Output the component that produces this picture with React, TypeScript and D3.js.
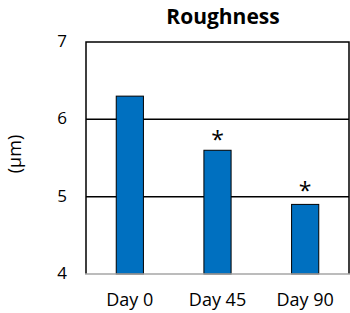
import React, { useEffect, useRef } from 'react';
import * as d3 from 'd3';

const categories = ['Day 0', 'Day 45', 'Day 90'];
const values = [6.3, 5.6, 4.9];
// level (µm) at which the significance star is centred; null = no star
const starLevels: (number | null)[] = [null, 5.78, 5.13];
const yTicks = [4, 5, 6, 7];

const App = () => {
  const ref = useRef<SVGSVGElement>(null);

  useEffect(() => {
    const width = 350;
    const height = 313;
    const margin = { top: 42, right: 1, bottom: 39, left: 86 };
    const font = '"Open Sans", "Noto Sans", sans-serif';

    const svg = d3.select(ref.current);
    svg.selectAll('*').remove();

    const x = d3.scaleBand()
      .domain(categories)
      .range([margin.left, width - margin.right])
      .paddingInner(0.69)
      .paddingOuter(0.345);
    const y = d3.scaleLinear()
      .domain([4, 7])
      .range([height - margin.bottom, margin.top]);

    // gridlines
    svg.append('g')
      .selectAll('line')
      .data(yTicks.filter(t => t > 4 && t < 7))
      .enter().append('line')
      .attr('x1', margin.left)
      .attr('x2', width - margin.right)
      .attr('y1', d => y(d))
      .attr('y2', d => y(d))
      .attr('stroke', '#000')
      .attr('stroke-width', 1.5);

    // frame: top, left, right black
    const x0 = margin.left, x1 = width - margin.right;
    const yTop = y(7), yBot = y(4);
    svg.append('path')
      .attr('d', `M${x0},${yBot}V${yTop}H${x1}V${yBot}`)
      .attr('fill', 'none')
      .attr('stroke', '#000')
      .attr('stroke-width', 1.5);

    // bars
    svg.append('g')
      .selectAll('rect')
      .data(values)
      .enter().append('rect')
      .attr('x', (d, i) => x(categories[i])!)
      .attr('width', x.bandwidth())
      .attr('y', d => y(d))
      .attr('height', d => y(4) - y(d))
      .attr('fill', '#0070C0')
      .attr('stroke', '#000')
      .attr('stroke-width', 1);

    // bottom axis line (grey)
    svg.append('line')
      .attr('x1', x0 - 1)
      .attr('x2', x1 + 1)
      .attr('y1', yBot)
      .attr('y2', yBot)
      .attr('stroke', '#a6a6a6')
      .attr('stroke-width', 1.5);

    // significance stars
    svg.append('g')
      .selectAll('text')
      .data(starLevels.map((v, i) => ({ v, i })).filter(d => d.v != null))
      .enter().append('text')
      .attr('x', d => x(categories[d.i])! + x.bandwidth() / 2)
      .attr('y', d => y(d.v as number) + 12)
      .attr('text-anchor', 'middle')
      .attr('font-family', font)
      .attr('font-size', 23)
      .text('*');

    // y tick labels
    svg.append('g')
      .selectAll('text')
      .data(yTicks)
      .enter().append('text')
      .attr('x', 67)
      .attr('y', d => y(d))
      .attr('dy', '0.3em')
      .attr('text-anchor', 'end')
      .attr('font-family', font)
      .attr('font-size', 17)
      .text(d => d);

    // x labels
    svg.append('g')
      .selectAll('text')
      .data(categories)
      .enter().append('text')
      .attr('x', d => x(d)! + x.bandwidth() / 2)
      .attr('y', 306)
      .attr('text-anchor', 'middle')
      .attr('font-family', font)
      .attr('font-size', 18)
      .text(d => d);

    // title
    svg.append('text')
      .attr('x', 223)
      .attr('y', 24)
      .attr('text-anchor', 'middle')
      .attr('font-family', font)
      .attr('font-size', 21)
      .attr('font-weight', 'bold')
      .text('Roughness');

    // y axis label
    svg.append('text')
      .attr('transform', 'translate(21,154) rotate(-90)')
      .attr('text-anchor', 'middle')
      .attr('font-family', font)
      .attr('font-size', 18)
      .text('(µm)');
  }, []);

  return (
    <svg
      ref={ref}
      width={350}
      height={313}
      style={{ position: 'absolute', left: 0, top: 0, background: '#fff' }}
    />
  );
};

export default App;
